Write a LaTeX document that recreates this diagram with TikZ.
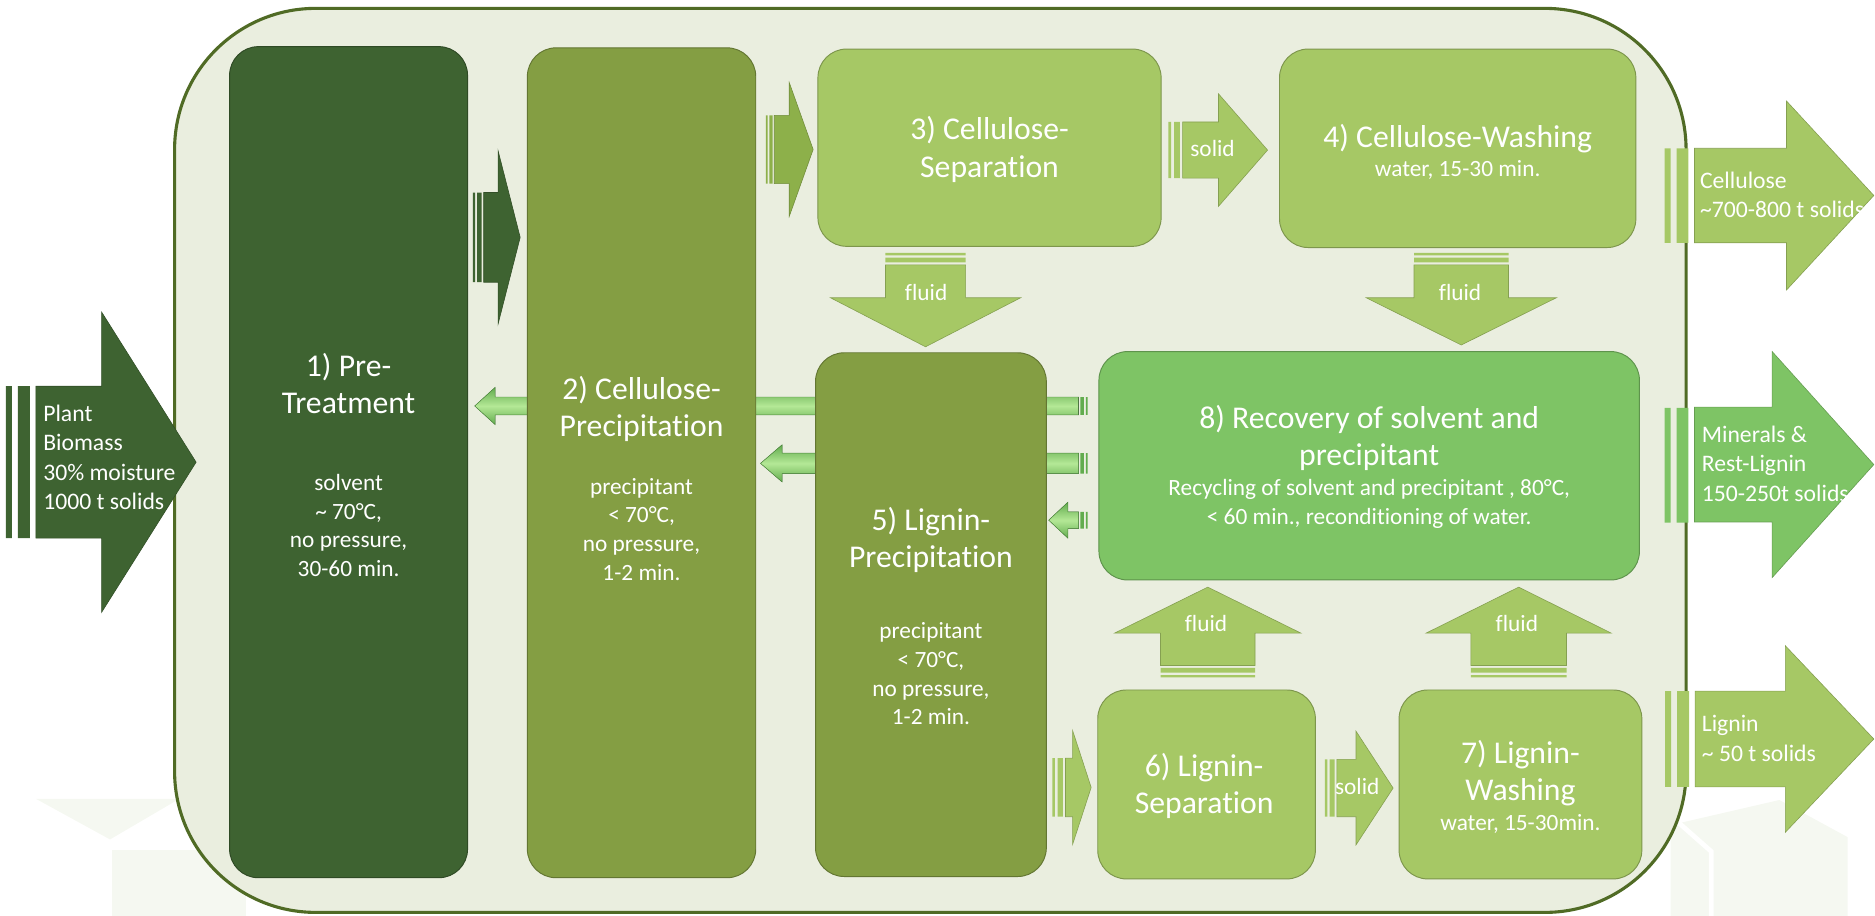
\documentclass[tikz,border=0pt]{standalone}
\usepackage{fontspec}
\setmainfont{Carlito}[RawFeature={-liga;-clig}]
\usetikzlibrary{positioning,calc}
\definecolor{wallfill}{RGB}{234,238,223}
\definecolor{wallline}{RGB}{80,107,37}
\definecolor{leafdark}{RGB}{62,99,49}
\definecolor{leafolive}{RGB}{132,158,67}
\definecolor{leaflight}{RGB}{166,200,101}
\definecolor{leafbright}{RGB}{126,196,101}
\definecolor{leafmid}{RGB}{141,176,74}
\definecolor{flowlo}{RGB}{98,172,78}
\definecolor{flowhi}{RGB}{180,232,150}
\definecolor{ghost}{RGB}{245,248,241}

% block arrow: style, tail, head base, tip, middle, half body, half head
\newcommand{\hblock}[7]{%
  \filldraw[#1] ({#2},{#5-#6}) -- ({#3},{#5-#6}) -- ({#3},{#5-#7}) -- ({#4},{#5})
    -- ({#3},{#5+#7}) -- ({#3},{#5+#6}) -- ({#2},{#5+#6}) -- cycle;}
\newcommand{\vblock}[7]{%
  \filldraw[#1] ({#5-#6},{#2}) -- ({#5-#6},{#3}) -- ({#5-#7},{#3}) -- ({#5},{#4})
    -- ({#5+#7},{#3}) -- ({#5+#6},{#3}) -- ({#5+#6},{#2}) -- cycle;}
% the two bars behind the tail: colour, start, bar width, middle, half body
\newcommand{\hbars}[5]{%
  \fill[#1] ({#2},{#4-#5}) rectangle ({#2+(#3)},{#4+#5})
    ({#2+2*(#3)},{#4-#5}) rectangle ({#2+4*(#3)},{#4+#5});}
\newcommand{\vbars}[5]{%
  \fill[#1] ({#4-#5},{#2}) rectangle ({#4+#5},{#2+(#3)})
    ({#4-#5},{#2+2*(#3)}) rectangle ({#4+#5},{#2+4*(#3)});}

\begin{document}
\begin{tikzpicture}[x=1pt,y=-1pt,
    box/.style={rectangle,rounded corners=24pt,inner sep=0pt,
                fill=#1,draw=#1!75!black,line width=0.8pt},
    head/.style={text=white,align=center,font=\fontsize{26.5}{31}\selectfont},
    note/.style={text=white,align=center,font=\fontsize{19.5}{24}\selectfont},
    tag/.style={text=white,align=left,anchor=west,inner sep=0pt,
                font=\fontsize{19.8}{24.5}\selectfont},
    flowtxt/.style={text=white,inner sep=0pt,font=\fontsize{19.5}{24}\selectfont},
    solidarr/.style={fill=#1,draw=#1!80!black,line width=0.5pt},
    backarr/.style={top color=flowlo,bottom color=flowlo,middle color=flowhi,
                    draw=flowlo!80!black,line width=0.4pt}]
  \useasboundingbox (0,0) rectangle (1568,766);

  % faint marks in the background
  \fill[ghost] (30,668) -- (150,668) -- (92,702) -- cycle;
  \fill[ghost] (94,711) rectangle (206,766);
  \fill[ghost] (1397,690) -- (1488,669) -- (1545,700) -- (1545,766) -- (1397,766) -- cycle;
  \draw[white,line width=4pt] (1397,682) -- (1431,712) -- (1431,766);

  % plant frame
  \draw[wallline,line width=2.6pt,fill=wallfill,rounded corners=118pt]
    (146,7) rectangle (1410,763);

  % returns from the recovery, passing behind 2) and 5)
  \hbars{flowlo}{909.5}{-1.5}{339.5}{7.5}
  \hblock{backarr}{902}{414}{397}{339.5}{7.5}{15.5}
  \hbars{flowlo}{909.5}{-1.5}{387.5}{8.5}
  \hblock{backarr}{902}{654}{636}{387.5}{8.5}{15.5}

  % process steps
  \node[box=leafdark,minimum width=199pt,minimum height=695pt] (pre) at (291.5,386.5) {};
  \node[box=leafolive,minimum width=191pt,minimum height=694pt] (cprec) at (536.5,387) {};
  \node[box=leaflight,minimum width=287pt,minimum height=165pt] (csep) at (827.5,123.5) {};
  \node[box=leaflight,minimum width=298pt,minimum height=166pt] (cwash) at (1219,124) {};
  \node[box=leafolive,minimum width=193pt,minimum height=438pt] (lprec) at (778.5,514) {};
  \node[box=leafbright,minimum width=452pt,minimum height=191pt] (recov) at (1145,389.5) {};
  \node[box=leaflight,minimum width=182pt,minimum height=158pt] (lsep) at (1009,656) {};
  \node[box=leaflight,minimum width=203pt,minimum height=158pt] (lwash) at (1271.5,656) {};

  % feed
  \hbars{leafdark}{5}{5}{386.5}{63.5}
  \hblock{solidarr=leafdark}{30}{85}{164}{386.5}{63.5}{125.5}
  % 1 -> 2, 2 -> 3, 3 -> 4
  \hbars{leafdark}{395.5}{1.8}{198.5}{37.5}
  \hblock{solidarr=leafdark}{404.5}{416.5}{435}{198.5}{37.5}{72.5}
  \hbars{leafmid}{640.5}{1.4}{125}{28.5}
  \hblock{solidarr=leafmid}{647.5}{660}{680}{125}{28.5}{56}
  \hbars{leaflight}{977}{2.4}{125.5}{23.5}
  \hblock{solidarr=leaflight}{989}{1019}{1060}{125.5}{23.5}{47}
  % 5 -> 6, 6 -> 7
  \hbars{leaflight}{880}{2.2}{658.5}{24.5}
  \hblock{solidarr=leaflight}{891}{897}{912.5}{658.5}{24.5}{47.5}
  \hbars{leaflight}{1108}{2}{659}{24}
  \hblock{solidarr=leaflight}{1118}{1134}{1165}{659}{24}{47.5}
  % 8 -> 5
  \hbars{flowlo}{909.5}{-1.5}{435}{7}
  \hblock{backarr}{902}{893}{877}{435}{7}{15}

  % fluid streams
  \vbars{leaflight}{211.5}{2}{774}{33.5}
  \vblock{solidarr=leaflight}{221.5}{249}{290}{774}{33.5}{79.5}
  \vbars{leaflight}{211.5}{2}{1222}{39.5}
  \vblock{solidarr=leaflight}{221.5}{249}{288.5}{1222}{39.5}{79.5}
  \vbars{leaflight}{566.5}{-2}{1010}{39.5}
  \vblock{solidarr=leaflight}{556.5}{529.5}{491}{1010}{39.5}{78}
  \vbars{leaflight}{566.5}{-2}{1270}{40}
  \vblock{solidarr=leaflight}{556.5}{529.5}{491}{1270}{40}{77.5}

  % products
  \hbars{leaflight}{1392}{5}{163.5}{39.5}
  \hblock{solidarr=leaflight}{1417}{1494}{1567}{163.5}{39.5}{79}
  \hbars{leafbright}{1392}{5}{389}{48}
  \hblock{solidarr=leafbright}{1417}{1482}{1567}{388.5}{48}{94.5}
  \hbars{leaflight}{1392.5}{5}{618}{40}
  \hblock{solidarr=leaflight}{1417.5}{1493}{1567}{618}{40}{78}

  % texts of the steps
  \node[head] (t1) at (291.5,321) {1) Pre-\\Treatment};
  \node[note] (n1) at (291.5,439.5) {solvent\\\textasciitilde{} 70°C,\\no pressure,\\30-60 min.};
  \node[head] (t2) at (536.5,342) {2) Cellulose-\\Precipitation};
  \node[note] (n2) at (536.5,442.5) {precipitant\\< 70°C,\\no pressure,\\1-2 min.};
  \node[head] (t3) at (827.5,125) {3) Cellulose-\\Separation};
  \node[head] (t4) at (1219,116) {4) Cellulose-Washing};
  \node[note] (n4) at (1219,142) {water, 15-30 min.};
  \node[head] (t5) at (778.5,451.5) {5) Lignin-\\Precipitation};
  \node[note] (n5) at (778.5,563.5) {precipitant\\< 70°C,\\no pressure,\\1-2 min.};
  \node[head] (t8) at (1145,366.5) {8) Recovery of solvent and\\precipitant};
  \node[note] (n8) at (1145,421.5) {Recycling of solvent and precipitant , 80°C,\\< 60 min., reconditioning of water.};
  \node[head] (t6) at (1007,657.5) {6) Lignin-\\Separation};
  \node[head] (t7) at (1271.5,646.5) {7) Lignin-\\Washing};
  \node[note] (n7) at (1271.5,689) {water, 15-30min.};

  % arrow labels
  \node[tag] (feed) at (36,382.5) {Plant\\Biomass\\30\% moisture\\1000 t solids};
  \node[tag] (cell) at (1421.5,163) {Cellulose\\\textasciitilde700-800 t solids};
  \node[tag] (mine) at (1423,387.7) {Minerals \&\\Rest-Lignin\\150-250t solids};
  \node[tag] (lign) at (1423,617.5) {Lignin\\\textasciitilde{} 50 t solids};
  \node[flowtxt] (s34) at (1014,124) {solid};
  \node[flowtxt] (s67) at (1135,658) {solid};
  \node[flowtxt] (f35) at (774.5,245) {fluid};
  \node[flowtxt] (f48) at (1221,245) {fluid};
  \node[flowtxt] (f68) at (1008.5,521) {fluid};
  \node[flowtxt] (f78) at (1268.5,521) {fluid};
\end{tikzpicture}
\end{document}
